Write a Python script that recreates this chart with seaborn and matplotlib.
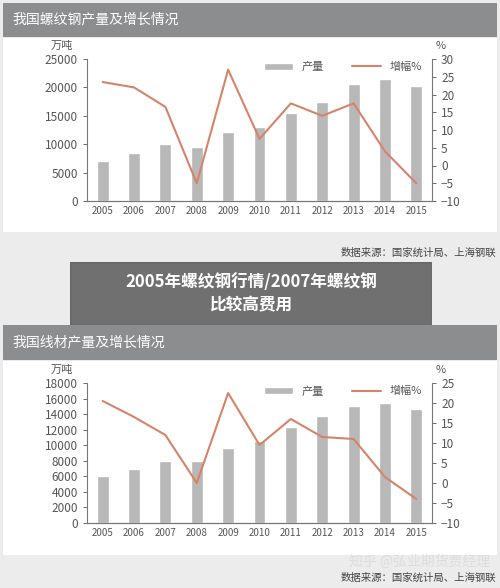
import numpy as np
import pandas as pd
import matplotlib
matplotlib.use("Agg")
import matplotlib.pyplot as plt
import seaborn as sns
from matplotlib.patches import Rectangle

sns.set_style("white")
plt.rcParams['font.family'] = ['Noto Sans CJK SC', 'DejaVu Sans']

years = ['2005','2006','2007','2008','2009','2010','2011','2012','2013','2014','2015']
rebar_output = [7000, 8500, 10000, 9500, 12200, 13000, 15500, 17500, 20600, 21400, 20300]
rebar_growth = [23.5, 22, 16.5, -5, 27, 7.5, 17.5, 14, 17.5, 4, -5]
wire_output = [6000, 7000, 8000, 8000, 9600, 10500, 12300, 13700, 15100, 15400, 14700]
wire_growth = [20.5, 16.5, 12, 0, 22.5, 9.5, 16, 11.5, 11, 1.5, -4]

W, H = 500, 588
fig = plt.figure(figsize=(5, 5.88), dpi=100)
fig.patch.set_facecolor('#ececec')

BAR = '#b8b8b8'
LINE = '#d5846a'
TXT = '#555555'

def px(x, y, w, h):
    return [x / W, 1 - (y + h) / H, w / W, h / H]

def panel(top, title, header_h, panel_bottom):
    bg = fig.add_axes(px(3, top, 494, panel_bottom - top))
    bg.set_axis_off()
    bg.add_patch(Rectangle((0, 0), 1, 1, transform=bg.transAxes, color='white'))
    hf = header_h / (panel_bottom - top)
    bg.add_patch(Rectangle((0, 1 - hf), 1, hf, transform=bg.transAxes, color='#8c8d8f'))
    bg.text(0.02, 1 - hf / 2, title, color='white', fontsize=10, va='center', ha='left', transform=bg.transAxes)

def chart(top, bottom, output, growth, ymax, ystep, gmin, gmax, gstep):
    ax = fig.add_axes(px(87, top, 345, bottom - top))
    df = pd.DataFrame({'year': years, 'out': output})
    sns.barplot(data=df, x='year', y='out', color=BAR, width=0.38, ax=ax, label='产量', saturation=1)
    ax.set_ylim(0, ymax)
    ax.set_yticks(np.arange(0, ymax + 1, ystep))
    ax.set_xlim(-0.5, len(years) - 0.5)
    ax.set_xlabel(''); ax.set_ylabel('')
    ax2 = ax.twinx()
    sns.lineplot(x=np.arange(len(years)), y=growth, color=LINE, lw=1.5, ax=ax2, label='增幅%')
    ax2.set_ylim(gmin, gmax)
    ax2.set_yticks(np.arange(gmin, gmax + 1, gstep))
    ax2.set_xlim(-0.5, len(years) - 0.5)
    for a in (ax, ax2):
        a.set_facecolor('none')
        a.spines['top'].set_visible(False)
        for s in ['left', 'right', 'bottom']:
            a.spines[s].set_color('#777777')
            a.spines[s].set_linewidth(0.8)
        a.tick_params(colors=TXT, labelsize=8.5, length=3, width=0.6, direction='out')
    ax2.spines['left'].set_visible(False)
    ax.spines['right'].set_visible(False)
    ax.tick_params(axis='x', labelsize=7, length=3)
    ax.set_xticks(np.arange(-0.5, len(years), 1), minor=True)
    ax.tick_params(axis='x', which='major', length=0)
    ax.tick_params(axis='x', which='minor', length=3, color='#777777')
    ax.text(-0.04, 1.07, '万吨', transform=ax.transAxes, fontsize=8, color=TXT, ha='right')
    ax2.text(1.025, 1.07, '%', transform=ax2.transAxes, fontsize=8, color=TXT, ha='center')
    h1, l1 = ax.get_legend_handles_labels()
    h2, l2 = ax2.get_legend_handles_labels()
    ax.legend(h1 + h2, l1 + l2, loc='upper right', ncol=2, frameon=False, fontsize=8,
              labelcolor=TXT, bbox_to_anchor=(1.0, 1.05), handlelength=2.6, columnspacing=2.5)
    if ax2.get_legend(): ax2.get_legend().remove()

panel(3, '我国螺纹钢产量及增长情况', 33, 232)
chart(59, 201, rebar_output, rebar_growth, 25000, 5000, -10, 30, 5)
fig.text(496 / W, 1 - 253 / H, '数据来源：国家统计局、上海钢联', ha='right', va='center', fontsize=7.5, color='#444444')

panel(325, '我国线材产量及增长情况', 34, 555)
chart(383, 523, wire_output, wire_growth, 18000, 2000, -10, 25, 5)
fig.text(490 / W, 1 - 562 / H, '知乎 @弘业期货贾经理', ha='right', va='center', fontsize=10, color='#dddddd')
fig.text(496 / W, 1 - 578 / H, '数据来源：国家统计局、上海钢联', ha='right', va='center', fontsize=7.5, color='#444444')

ov = fig.add_axes(px(70, 262, 362, 63))
ov.set_axis_off()
ov.add_patch(Rectangle((0, 0), 1, 1, transform=ov.transAxes, color='#5a5a5a', alpha=0.85))
ov.text(0.5, 0.5, '2005年螺纹钢行情/2007年螺纹钢\n比较高费用', transform=ov.transAxes, ha='center', va='center',
        color='white', fontsize=12, fontweight='bold', linespacing=1.4)

fig.savefig('out.png', dpi=100)
